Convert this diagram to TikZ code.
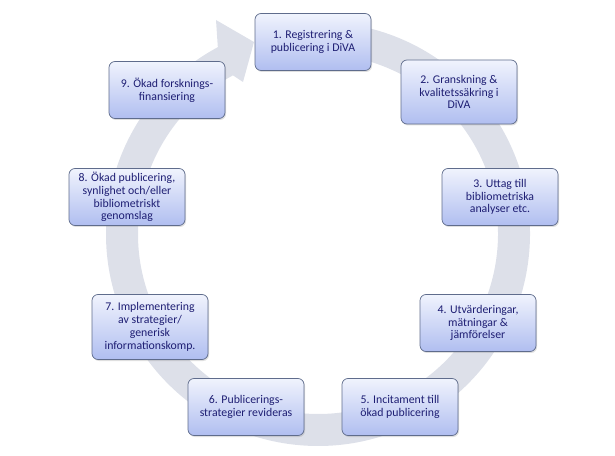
\documentclass[tikz,border=0pt]{standalone}
\usepackage{fontspec}
\setmainfont{Carlito}
\usetikzlibrary{shadows}
\definecolor{ringc}{RGB}{221,224,233}
\definecolor{boxtop}{RGB}{240,243,253}
\definecolor{boxbot}{RGB}{176,190,240}
\definecolor{boxline}{RGB}{95,108,140}
\definecolor{txt}{RGB}{30,30,115}
\tikzset{
  stepbox/.style={draw=boxline, line width=0.7pt, rounded corners=6pt,
    top color=boxtop, bottom color=boxbot, text=txt, align=center,
    minimum width=116pt, minimum height=57pt, inner sep=1.5pt,
    font=\fontsize{11.8}{12.8}\selectfont,
    drop shadow={opacity=0.25, shadow xshift=1pt, shadow yshift=-1.5pt}},
}
\begin{document}
\begin{tikzpicture}[x=1pt,y=1pt]
\useasboundingbox (0,0) rectangle (615,455);
% ring arrow
\coordinate (c) at (318,221);
\draw[ringc, line width=32pt] ([shift={(c)}]85:196) arc[start angle=85, end angle=-242, radius=196];
\fill[ringc] ([shift={(c)}]118.2:212) -- (216,435) -- (254,413) -- (243,373) -- ([shift={(c)}]118.2:180) -- cycle;
% boxes
\node[stepbox] (n1) at (313,413) {1. Registrering \&\\publicering i DiVA};
\node[stepbox, minimum height=64pt] (n2) at (459,363) {2. Granskning \&\\kvalitetssäkring i\\DiVA};
\node[stepbox] (n3) at (500,258) {3. Uttag till\\bibliometriska\\analyser etc.};
\node[stepbox] (n4) at (478,132) {4. Utvärderingar,\\mätningar \&\\jämförelser};
\node[stepbox] (n5) at (400,48) {5. Incitament till\\ökad publicering};
\node[stepbox] (n6) at (246,48) {6. Publicerings-\\strategier revideras};
\node[stepbox, minimum height=65pt] (n7) at (150,128) {7. Implementering\\av strategier/\\generisk\\informationskomp.};
\node[stepbox] (n8) at (127,258) {8. Ökad publicering,\\synlighet och/eller\\bibliometriskt\\genomslag};
\node[stepbox] (n9) at (167,365) {9. Ökad forsknings-\\finansiering};
\end{tikzpicture}
\end{document}
